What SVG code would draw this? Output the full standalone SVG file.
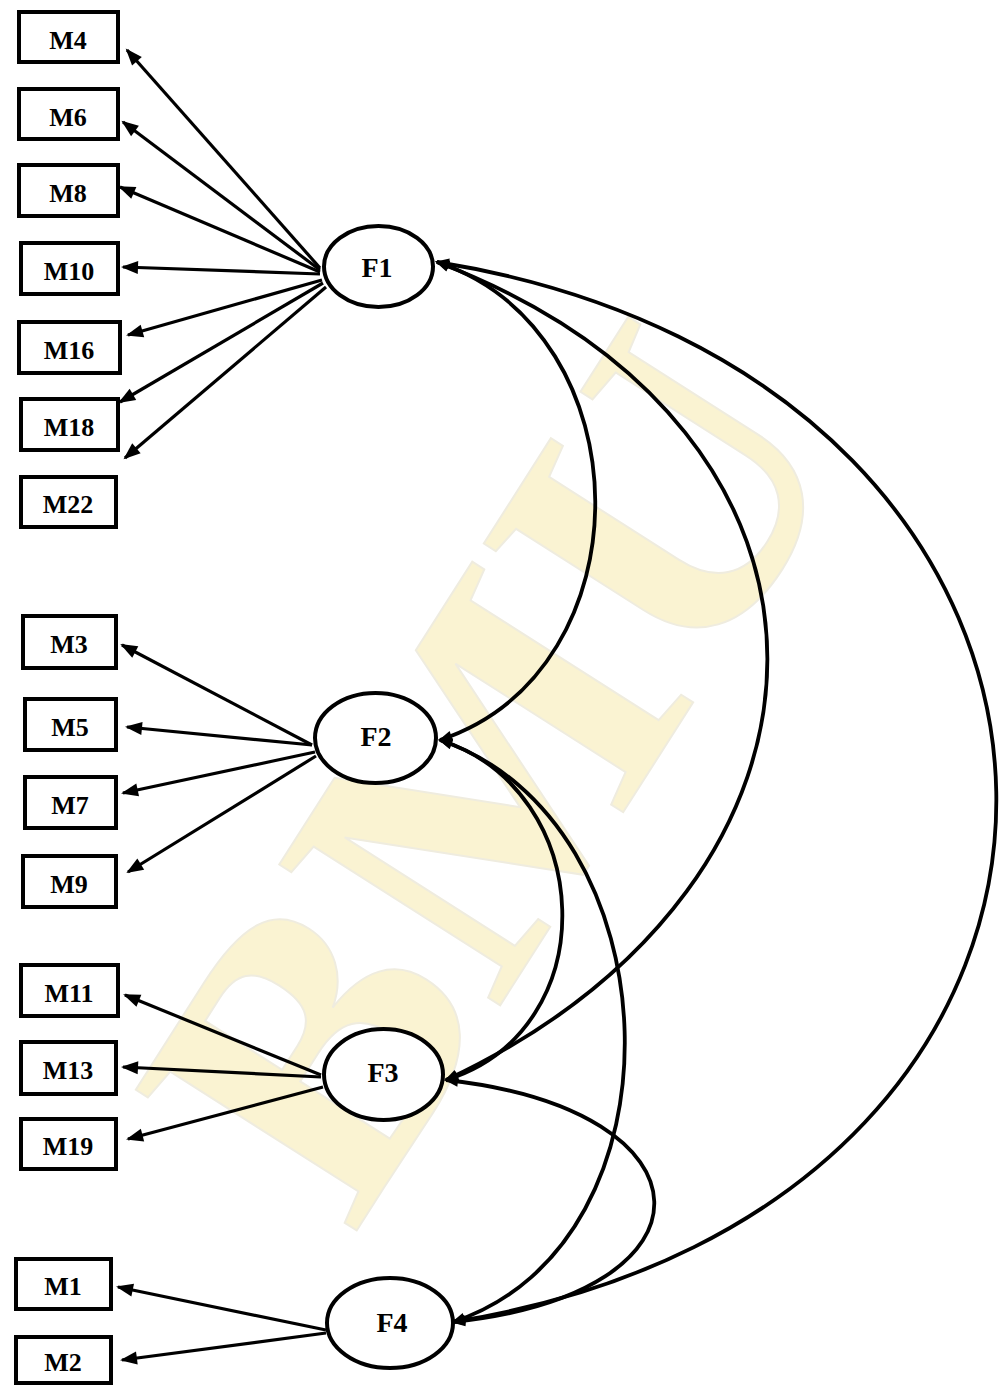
<svg xmlns="http://www.w3.org/2000/svg" width="1000" height="1387" viewBox="0 0 1000 1387">
<style>
.box{fill:#fff;stroke:#000;stroke-width:4}
.lv{fill:#fff;stroke:#000;stroke-width:4}
.lbl{font-family:"Liberation Serif","Times New Roman",serif;font-weight:bold;font-size:26px;text-anchor:middle;fill:#000}
.flbl{font-size:28px}
.ld{stroke:#000;stroke-width:3.2;fill:none;marker-end:url(#ah)}
.cv{stroke:#000;stroke-width:3.8;fill:none;marker-start:url(#ch);marker-end:url(#ch)}
.wm{font-family:"Liberation Serif","Times New Roman",serif;font-weight:bold;font-size:400px;text-anchor:middle;fill:#faf3d2;stroke:#efecdf;stroke-width:2}
</style>
<defs>
<marker id="ah" markerUnits="userSpaceOnUse" markerWidth="18" markerHeight="14" refX="15" refY="7" orient="auto" overflow="visible"><path d="M0,0.5 L17,7 L0,13.5 z" fill="#000"/></marker>
<marker id="ch" markerUnits="userSpaceOnUse" markerWidth="14" markerHeight="12" refX="12" refY="6" orient="auto-start-reverse" overflow="visible"><path d="M0,0.5 L14,6 L0,11.5 z" fill="#000"/></marker>
</defs>
<rect width="1000" height="1387" fill="#fff"/>
<g id="watermark">
<text class="wm" transform="translate(490,770) rotate(-57.5)" dy="135">BMU</text>
</g>
<g id="connectors">
<path class="ld" d="M320,268 L127,50"/>
<path class="ld" d="M320,270 L123,122"/>
<path class="ld" d="M320,272 L120,187"/>
<path class="ld" d="M320,274 L123,267"/>
<path class="ld" d="M322,280 L128,335"/>
<path class="ld" d="M323,283 L120,402"/>
<path class="ld" d="M326,287 L125,458"/>
<path class="ld" d="M312,745 L122,645"/>
<path class="ld" d="M312,745 L127,727"/>
<path class="ld" d="M315,752 L123,793"/>
<path class="ld" d="M316,756 L128,872"/>
<path class="ld" d="M321,1075 L125,995"/>
<path class="ld" d="M321,1077 L123,1067"/>
<path class="ld" d="M323,1087 L128,1139"/>
<path class="ld" d="M326,1330 L118,1287"/>
<path class="ld" d="M326,1333 L122,1360"/>
<path class="cv" d="M437,262 C646,332 649,670 440,740"/>
<path class="cv" d="M437,262 C880,430 872,880 446,1080"/>
<path class="cv" d="M437,262 C1170,380 1190,1203 453,1322"/>
<path class="cv" d="M440,740 C597,790 607,1030 446,1080"/>
<path class="cv" d="M440,740 C676,820 692,1243 453,1322"/>
<path class="cv" d="M446,1080 C719,1110 726,1293 453,1322"/>
</g>
<g id="M4"><rect class="box" x="19" y="12" width="99" height="50"/><text class="lbl" x="68" y="49">M4</text></g>
<g id="M6"><rect class="box" x="19" y="89" width="99" height="50"/><text class="lbl" x="68" y="126">M6</text></g>
<g id="M8"><rect class="box" x="19" y="165" width="99" height="51"/><text class="lbl" x="68" y="202">M8</text></g>
<g id="M10"><rect class="box" x="21" y="243" width="97" height="51"/><text class="lbl" x="69" y="280">M10</text></g>
<g id="M16"><rect class="box" x="19" y="322" width="101" height="51"/><text class="lbl" x="69" y="359">M16</text></g>
<g id="M18"><rect class="box" x="21" y="399" width="97" height="51"/><text class="lbl" x="69" y="436">M18</text></g>
<g id="M22"><rect class="box" x="21" y="477" width="95" height="50"/><text class="lbl" x="68" y="513">M22</text></g>
<g id="M3"><rect class="box" x="23" y="616" width="93" height="52"/><text class="lbl" x="69" y="653">M3</text></g>
<g id="M5"><rect class="box" x="25" y="699" width="91" height="51"/><text class="lbl" x="70" y="736">M5</text></g>
<g id="M7"><rect class="box" x="25" y="777" width="91" height="51"/><text class="lbl" x="70" y="814">M7</text></g>
<g id="M9"><rect class="box" x="23" y="856" width="93" height="51"/><text class="lbl" x="69" y="893">M9</text></g>
<g id="M11"><rect class="box" x="21" y="965" width="97" height="51"/><text class="lbl" x="69" y="1002">M11</text></g>
<g id="M13"><rect class="box" x="21" y="1042" width="95" height="52"/><text class="lbl" x="68" y="1079">M13</text></g>
<g id="M19"><rect class="box" x="21" y="1119" width="95" height="50"/><text class="lbl" x="68" y="1155">M19</text></g>
<g id="M1"><rect class="box" x="16" y="1259" width="95" height="50"/><text class="lbl" x="63" y="1295">M1</text></g>
<g id="M2"><rect class="box" x="16" y="1337" width="95" height="46"/><text class="lbl" x="63" y="1371">M2</text></g>
<g id="F1"><ellipse class="lv" cx="378.5" cy="266.5" rx="54.5" ry="40.5"/><text class="lbl flbl" x="377" y="277">F1</text></g>
<g id="F2"><ellipse class="lv" cx="375.5" cy="738" rx="60.5" ry="45"/><text class="lbl flbl" x="376" y="746">F2</text></g>
<g id="F3"><ellipse class="lv" cx="383.5" cy="1074.5" rx="59.5" ry="45.5"/><text class="lbl flbl" x="383" y="1082">F3</text></g>
<g id="F4"><ellipse class="lv" cx="390" cy="1323" rx="63" ry="45"/><text class="lbl flbl" x="392" y="1332">F4</text></g>
</svg>
